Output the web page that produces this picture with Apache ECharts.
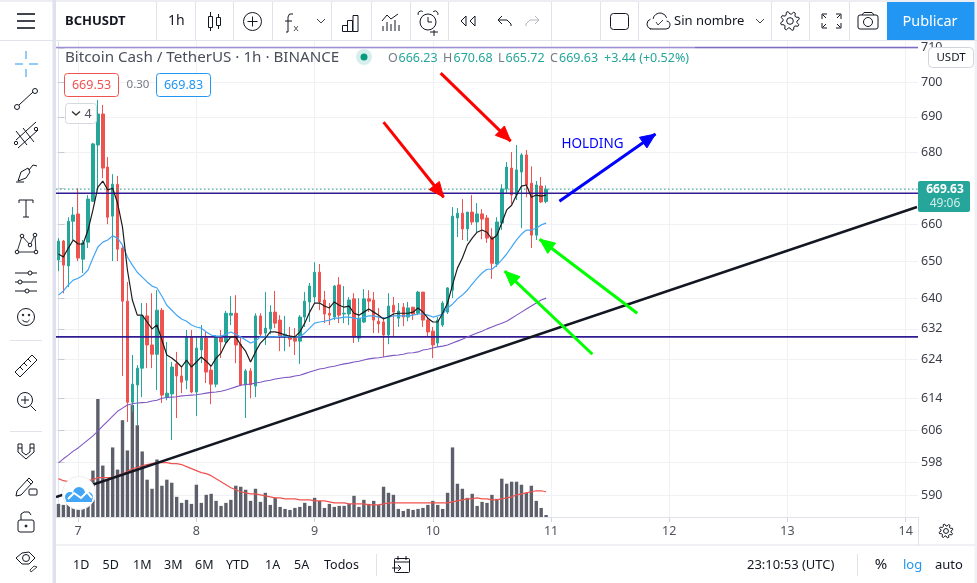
<!DOCTYPE html>
<html><head><meta charset="utf-8">
<style>html,body{margin:0;padding:0;background:#fff;overflow:hidden}#c{width:977px;height:583px}</style>
<script src="https://cdn.jsdelivr.net/npm/echarts@6/dist/echarts.min.js"></script>
</head><body><div id="c"></div>
<script>
// ---------- data ----------
const ohlc=[ // open, close, low, high
[650.3,655.4,647.3,656.2],[655.4,648.9,641.4,655.7],[648.7,660.8,643.0,661.9],[660.8,662.5,655.7,664.7],[662.8,650.8,650.0,669.9],
[650.5,654.9,646.8,655.7],[655.1,666.9,653.5,668.0],[666.3,682.3,666.1,682.6],[682.0,690.8,669.4,694.8],[690.8,675.5,672.7,693.4],
[675.8,661.9,660.0,678.6],[662.2,671.0,650.0,673.8],[671.0,653.2,650.0,673.3],[653.5,639.3,619.8,654.3],[639.3,613.1,608.1,644.4],
[613.1,617.7,610.6,625.2],[617.5,621.8,607.3,622.6],[621.8,635.4,614.4,638.8],[635.4,627.8,621.8,638.8],[627.8,625.4,621.8,641.4],
[625.4,636.9,616.2,642.2],[636.9,614.9,612.9,637.5],[614.4,615.4,613.6,628.6],[615.2,622.1,603.6,623.4],[622.9,619.8,609.1,626.0],
[619.8,618.2,615.4,622.1],[618.7,629.9,616.4,631.7],[629.9,615.7,615.4,631.7],[615.7,627.0,609.6,629.9],[626.5,629.6,623.1,633.0],
[629.6,620.8,618.0,631.2],[621.3,617.7,612.6,622.6],[617.7,629.9,616.9,630.4],[629.9,628.6,624.4,631.7],[628.6,636.1,628.3,636.7],
[635.6,636.1,633.0,640.6],[636.1,627.8,623.1,640.9],[628.0,617.5,617.2,629.9],[617.5,621.1,609.1,621.6],[621.1,617.5,614.1,621.8],
[617.2,635.4,614.4,636.1],[635.4,630.6,629.9,636.1],[630.9,632.2,627.8,641.7],[632.0,636.4,630.6,638.2],[636.4,633.5,632.2,642.0],
[634.3,630.1,626.2,635.6],[629.9,630.6,626.2,635.4],[630.1,629.3,627.3,632.5],[629.6,628.8,625.2,632.2],[628.8,635.1,622.9,635.6],
[635.1,639.3,632.5,641.7],[639.1,643.3,633.8,644.1],[640.4,647.0,638.8,649.7],[647.0,639.1,636.9,649.2],[639.6,635.9,633.5,642.0],
[636.1,635.6,633.0,638.8],[635.1,643.3,634.3,643.6],[643.6,635.6,633.5,645.7],[635.9,636.1,633.5,643.3],[635.9,639.6,633.0,640.4],
[639.9,629.9,628.3,641.4],[629.6,634.8,628.6,640.1],[633.8,639.9,633.5,642.5],[639.9,639.3,636.4,642.2],[639.6,634.3,630.9,641.7],
[634.0,633.3,630.9,637.5],[633.8,630.4,624.7,635.1],[630.4,638.0,628.0,641.4],[638.2,636.4,629.9,640.4],[634.8,636.7,632.5,638.8],
[637.7,635.1,632.7,638.8],[635.1,637.5,634.0,639.1],[637.7,635.9,634.3,637.7],[636.1,641.7,635.6,642.0],[641.7,634.3,632.5,641.7],
[634.3,631.2,629.9,635.1],[631.4,627.8,624.4,632.5],[628.3,634.3,627.3,635.1],[633.0,638.8,632.5,639.3],[636.4,642.8,635.9,643.0],
[642.2,662.2,640.1,664.7],[661.7,663.0,656.5,664.4],[663.0,658.7,655.7,666.9],[658.7,663.3,655.4,663.3],[663.3,660.6,659.8,668.0],
[660.6,662.8,657.8,665.8],[662.8,661.4,655.9,664.1],[661.7,656.2,654.9,662.5],[656.5,649.4,645.2,658.9],[649.2,660.6,648.4,661.9],
[660.3,669.7,658.4,671.0],[669.7,675.8,668.3,677.2],[675.5,668.0,665.5,680.0],[668.0,675.0,666.6,682.0],[674.4,679.2,658.9,679.7],
[679.2,670.8,667.4,680.6],[671.3,657.0,653.5,676.0],[657.0,670.8,655.7,671.9],[670.5,666.1,665.8,673.0],[666.23,669.63,665.72,670.68]];
const maBlack=[651.9,651.1,653.5,655.7,654.6,654.6,658.4,663.9,670.2,671.9,
669.4,669.9,665.8,659.2,647.6,639.6,635.6,635.6,633.8,632.0,
633.0,629.1,625.2,624.4,623.4,622.1,623.9,622.1,623.4,624.7,
623.6,622.3,624.4,625.7,628.3,629.9,629.9,627.8,626.2,623.4,
626.0,628.3,629.6,631.2,631.2,630.9,630.4,630.1,629.9,631.2,
633.5,636.4,638.8,638.8,638.0,637.5,639.1,638.2,637.7,638.0,
636.1,635.6,636.4,637.2,636.4,635.6,634.6,635.1,635.9,636.1,
636.1,636.1,636.4,637.5,636.4,634.8,633.8,633.8,636.1,638.8,
643.6,648.1,650.8,654.3,656.2,657.8,658.4,657.8,655.9,657.0,
660.3,663.9,665.2,668.0,670.5,670.8,667.4,668.0,667.7,668.0];
const maBlue=[640.9,642.0,643.6,644.9,645.4,646.2,647.6,650.8,653.8,655.1,
655.7,656.8,656.2,654.3,651.1,648.9,647.0,645.7,644.4,643.3,
642.8,640.6,638.2,636.9,635.6,634.6,634.0,633.0,632.5,632.2,
631.2,630.4,630.1,630.1,630.6,631.2,630.6,629.9,629.1,628.3,
628.8,629.9,629.9,629.9,629.9,630.1,630.1,629.9,629.9,629.9,
630.9,632.2,633.5,633.8,634.0,634.3,634.8,634.8,635.1,635.1,
634.8,634.6,635.1,635.4,635.4,635.1,634.8,635.1,635.4,635.4,
635.4,635.4,635.6,635.9,635.9,635.6,635.1,635.4,635.9,637.5,
638.5,639.9,640.9,642.2,643.8,645.4,646.8,647.8,647.8,648.9,
650.3,651.9,653.8,655.7,657.3,658.4,658.4,658.9,659.8,660.3];
const maPurple=[597.9,598.9,599.8,600.8,601.6,602.6,603.6,604.6,605.8,607.1,
608.3,609.6,610.8,611.6,612.4,612.7,612.9,613.0,613.1,613.4,
613.6,614.1,614.3,614.4,614.5,614.7,614.8,614.9,615.0,615.2,
615.4,615.6,615.7,615.9,616.2,616.6,617.0,617.4,617.6,617.7,
618.0,618.2,618.5,618.7,619.0,619.2,619.4,619.5,619.8,620.0,
620.4,620.8,621.2,621.6,621.8,622.1,622.3,622.6,622.9,623.1,
623.4,623.6,623.9,624.2,624.4,624.5,624.7,624.9,625.1,625.2,
625.4,625.7,625.8,626.0,626.5,626.7,627.0,627.3,627.5,627.8,
628.3,628.8,629.3,629.9,630.4,630.9,631.4,632.0,632.5,633.0,
633.5,634.0,634.8,635.6,636.4,637.2,638.0,638.8,639.6,640.1];
const volumes=[14,13,15,16,15,18,25,47,118,52,38,70,48,97,67,112,92,66,38,29,
58,32,38,35,21,15,18,14,33,15,23,24,17,12,15,18,32,31,28,17,
29,16,25,13,20,11,9,8,10,11,15,12,20,17,10,14,11,12,12,14,
22,11,18,14,17,13,31,25,23,9,7,9,8,9,10,13,17,13,9,25,
70,34,29,20,24,12,16,15,23,19,39,34,36,36,33,25,32,17,10,3];
const volumeMA=[39,37,36,36,36,36,37,38,40,40,40,40,42,44,46,49,50,52,53,54,
55,55,55,54,54,53,51,49,47,45,44,42,39,36,33,30,28,26,25,24,
24,23,22,21,20,20,19,19,19,18,18,18,17,17,17,16,15,15,15,14,
14,14,14,13,13,13,14,15,15,15,15,15,15,15,15,15,15,15,15,15,
16,17,18,19,19,20,19,19,18,18,19,20,21,23,24,25,26,27,27,26];
const priceTicks=[710,700,690,680,670,660,650,640,632,624,614,606,598,590];
const dayTicks=[4,28,52,76,100,124,148,172];
const dayLabels=['7','8','9','10','11','12','13','14'];
const barCount=175;
const barNames=Array.from({length:barCount},(_,i)=>'h'+i);
// drawn objects: barFrom, priceFrom, barTo, priceTo
const trendLine=[-0.5,589.5,174.3,664.7];
const levels=[710.07,668.5,629.9];
const lastClose=669.63;
const redArrows=[[66.0,688.5,78.2,667.4],[77.6,702.6,91.8,683.1]];
const blueArrows=[[101.7,666.3,121.2,685.1]];
const greenArrows=[[108.4,625.4,90.6,647.3],[117.5,636.1,97.7,655.9]];
const noteHolding=[102.1,682.3,'HOLDING'];

// ---------- page chrome drawn as graphic elements ----------
const FONT='"Noto Sans",sans-serif', INK='#131722', EDGE='#e0e3eb';
const els=[];
const Z=100;
function T(s,x,y,o={}){els.push({type:'text',z:o.z||Z,silent:true,style:{text:s,x,y,fill:o.c||INK,align:o.a||'left',verticalAlign:'middle',font:`${o.w||'normal'} ${o.s||13}px ${FONT}`,opacity:o.o==null?1:o.o}});}
function L(x1,y1,x2,y2,c=INK,w=1){els.push({type:'line',z:Z,silent:true,shape:{x1,y1,x2,y2},style:{stroke:c,lineWidth:w,fill:null}});}
function P(points,c=INK,w=1,fill=null){els.push({type:fill?'polygon':'polyline',z:Z,silent:true,shape:{points},style:{stroke:c,lineWidth:w,fill:fill||null,lineJoin:'round'}});}
function C(cx,cy,r,c=INK,w=1,fill=null,z=Z){els.push({type:'circle',z,silent:true,shape:{cx,cy,r},style:{stroke:c,lineWidth:w,fill:fill||'transparent'}});}
function R(x,y,w,h,r=0,fill='transparent',c,lw=1,z=Z){if(c===undefined)c=(fill==='transparent')?INK:null;els.push({type:'rect',z,silent:true,shape:{x,y,width:w,height:h,r},style:{fill,stroke:c,lineWidth:lw}});}
function A(cx,cy,r,a0,a1,c=INK,w=1){els.push({type:'arc',z:Z,silent:true,shape:{cx,cy,r,startAngle:a0,endAngle:a1,clockwise:true},style:{stroke:c,lineWidth:w,fill:null}});}
function gear(cx,cy,ro,ri,n,c=INK){const p=[];for(let k=0;k<n*4;k++){const a=k/(n*4)*Math.PI*2+Math.PI/8;const r=(k%4<2)?ro:ri;p.push([cx+r*Math.cos(a),cy+r*Math.sin(a)]);}P(p,c,1,'#fff');C(cx,cy,ro*0.35,c);}

// frames
R(0,0,977,2,0,'#eceef4');R(974.5,0,2.5,583,0,'#f0f1f6');
R(52.5,0,3.5,583,0,'#dfe1ee');
L(0,40.5,977,40.5,EDGE);L(56,517.5,919,517.5,EDGE);L(56,545,975,545,EDGE);L(918.5,518,918.5,545,EDGE);
[156.5,195.5,233.5,272.5,331.5,371.5,410.5,448.5,551.5,600.5,638.5,771.5,809.5,849.5].forEach(x=>L(x,2,x,40,EDGE));
L(376.5,554,376.5,576,EDGE);L(857.5,554,857.5,576,EDGE);L(10,340.5,42,340.5,EDGE);L(10,431.5,42,431.5,EDGE);

// top bar
[14,21,28].forEach(y=>L(17,y,35,y,INK,1.6));
T('BCHUSDT',65,21,{s:13,w:'bold'});T('1h',168,21,{s:14});
R(208.5,16.5,4,11);L(210.5,12,210.5,16.5);L(210.5,27.5,210.5,31);R(216.5,17.5,4,8);L(218.5,14,218.5,17.5);L(218.5,25.5,218.5,29);
C(252.5,21.5,9);L(247.5,21.5,257.5,21.5);L(252.5,16.5,252.5,26.5);
P([[293,14],[289.5,14],[288,17],[288,32],[286,32]]);L(285,21,292,21);L(294,26,298,31,'#555');L(298,26,294,31,'#555');
P([[317,19],[321,23],[325,19]],'#444');
R(342.5,25.5,5,6);R(347.5,20.5,5,11);R(353,15.5,5,16);
P([[382,21],[387,15],[391,19],[398,14]]);[383,387,391,395,399].forEach((x,k)=>L(x,31,x,[26,22,24,20,25][k],INK));
C(428,22,8);L(428,17,428,22);L(428,22,432,22);A(421,14,3,Math.PI*0.9,Math.PI*1.7);A(435,14,3,-Math.PI*0.7,Math.PI*0.1);L(434,30,434,36,INK,1);L(430,32,438,32,INK,1);
P([[466,16],[461,21],[466,26],[466,16]]);P([[475,16],[470,21],[475,26],[475,16]]);
P([[502,16],[498,20],[502,24]]);P([[498,20],[507,20],[511,24],[511,26]]);
P([[535,16],[539,20],[535,24]],'#b2b5be');P([[539,20],[530,20],[526,24],[526,26]],'#b2b5be');
R(610.5,13.5,18,16,3);
P([[651,29],[650,29]]);A(652,24,5,Math.PI*0.5,Math.PI*1.4);A(660,20,7,Math.PI*1.05,Math.PI*1.9);A(666,25,4,-Math.PI*0.45,Math.PI*0.5);L(652,29,666,29);P([[656,22],[658,25],[663,20]],INK,0.8);
T('Sin nombre',674,21,{s:13});
P([[756,19],[760,23],[764,19]],'#444');
gear(790,21,9.5,7,8);
P([[822,19],[822,14],[827,14]]);P([[836,14],[841,14],[841,19]]);P([[822,23],[822,28],[827,28]]);P([[836,28],[841,28],[841,23]]);L(823,15,826,18);L(840,15,837,18);L(823,27,826,24);L(840,27,837,24);
R(858,15,20,14,2);C(868,22,4.5);L(862,15,864,12.5);L(864,12.5,872,12.5);L(872,12.5,874,15);
R(887,2,87.5,38,0,'#2196f3');T('Publicar',930,22,{s:14.5,c:'#fff',a:'center'});

// legend rows
R(56,46,639,3,0,'rgba(255,255,255,0.25)');
T('Bitcoin Cash / TetherUS · 1h · BINANCE',65,58,{s:15.2,c:'#4a4e5a'});
C(364,57,8,'#d7efec',0,'#d7efec');C(364,57,3.5,'#089981',0,'#089981');
const G='#26a69a',GY='#787b86';
[['O',388,GY],['666.23',398.5,G],['H',443,GY],['670.68',453.5,G],['L',498,GY],['665.72',505.5,G],['C',550,GY],['669.63',559,G],['+3.44 (+0.52%)',604,G]].forEach(a=>T(a[0],a[1],58.5,{s:12.5,c:a[2]}));
R(64.5,73.5,54,23,3,'#fff','#ef5350');T('669.53',91.5,85,{s:12.5,c:'#ef5350',a:'center'});
T('0.30',138,84.5,{s:11.5,c:GY,a:'center'});
R(156.5,73.5,54,23,3,'#fff','#2196f3');T('669.83',183.5,85,{s:12.5,c:'#2196f3',a:'center'});
R(65.5,103.5,31,20,3,'#fff','#d6d8e0');P([[72,111.5],[76,115],[80,111.5]],'#333',1.4);T('4',88,114,{s:12.5,c:'#50535e',a:'center'});

// right axis
R(928.5,47.5,45,20,4,'#fff','#d1d4dc');T('USDT',951,57.5,{s:11.5,a:'center'});
R(918,181,52,31,2,'#26a69a');T('669.63',945,190,{s:12,w:'bold',c:'#fff',a:'center'});T('49:06',945,203.5,{s:12,c:'#cfeeea',a:'center'});

// left tools
const B='#2196f3';
L(26,51,26,59,B);L(26,69,26,77,B);L(15,64,23,64,B);L(29,64,38,64,B);
L(19,105,33,92);C(17,107,2.5);C(35,91,2.5);
L(16,140,36,122);L(18,148,38,130);L(16,131,27,145);L(23,128,34,142);C(16,143,1.7);C(36,129,1.7);
P([[18,181],[21,172],[28,168],[30,172],[26,178],[18,181]]);P([[29,170],[33,165],[37,166]]);L(16,182,24,182);
P([[19,203],[19,200],[33,200],[33,203]]);L(26,200,26,217);L(23,217,29,217);
P([[17,252],[22,236],[30,245],[35,235],[36,252],[17,252]],INK,0.9);[[17,252],[22,236],[30,245],[35,235],[36,252]].forEach(p=>C(p[0],p[1],1.8,INK,1,'#fff'));
L(15,273,37,273);L(15,282,37,282);L(15,291,37,291);C(30,273,2,INK,1,'#fff');C(20,282,2,INK,1,'#fff');C(27,291,2,INK,1,'#fff');
C(26,317,8.5);C(23,315,0.8,INK,1,INK);C(29,315,0.8,INK,1,INK);A(26,318,4,0.15*Math.PI,0.85*Math.PI);
P([[15,372],[32,355],[37,360],[20,377],[15,372]]);[[20,367,23,370],[24,363,27,366],[28,359,31,362]].forEach(a=>L(...a));
C(25,400,7.5);L(30.5,405.5,36,411);L(21,400,29,400);L(25,396,25,404);
P([[18,444],[18,452],[26,459],[34,452],[34,444],[30,444],[30,452],[26,455],[22,452],[22,444],[18,444]]);L(18,448,22,448);L(30,448,34,448);
P([[17,491],[29,478],[33,482],[21,495],[16,496],[17,491]]);L(27,480,31,484);R(29,489,8,6,1);
R(18,520,16,12,2);P([[21,520],[21,514],[24,512],[29,512],[31,515]]);C(26,526,1,INK,1,INK);
P([[16,558],[22,553],[29,552],[35,558],[29,564],[22,564],[16,558]]);C(26,558,3.5);P([[30,570],[34,566],[37,567],[31,572],[30,570]],INK,0.8);

// logo
C(79,493,16.5,'#eceef2',1,'#fff',101);
[[70,497,5],[79,493,6],[88,497,5]].forEach(a=>C(a[0],a[1],a[2],'#42a5f5',0,'#42a5f5',102));
R(66,495,26,7,1,'#42a5f5',null,0,102);
els.push({type:'polyline',z:103,silent:true,shape:{points:[[68,499],[74,493],[81,498],[87,492],[92,498]]},style:{stroke:'#fff',lineWidth:2,fill:null}});

// bottom bar and gear
[['1D',73],['5D',102.5],['1M',133],['3M',164],['6M',195],['YTD',226],['1A',265],['5A',294],['Todos',324]].forEach(a=>T(a[0],a[1],565,{s:12.5}));
R(394.5,558.5,15,14,1);L(394.5,562,409.5,562);L(398,556,398,560);L(406,556,406,560);L(392,568,401,568);P([[398,565],[401,568],[398,571]]);
T('23:10:53 (UTC)',747,565,{s:13});T('%',881,565,{s:15,a:'center'});T('log',903,565,{s:13,c:'#2196f3'});T('auto',935,565,{s:13});
gear(946,531,7,5,8);

// ---------- custom series helpers ----------
function segRender(color,width,dash,head){return function(params,api){
  const a=api.coord([api.value(0),api.value(1)]),b=api.coord([api.value(2),api.value(3)]);
  const ch=[{type:'line',shape:{x1:a[0],y1:a[1],x2:b[0],y2:b[1]},style:{stroke:color,lineWidth:width,lineDash:dash||null,fill:null}}];
  if(head){const t=Math.atan2(b[1]-a[1],b[0]-a[0]),len=15,w=6.5;
    const bx=b[0]-len*Math.cos(t),by=b[1]-len*Math.sin(t);
    ch.push({type:'polygon',shape:{points:[[b[0],b[1]],[bx-w*Math.sin(t),by+w*Math.cos(t)],[bx+w*Math.sin(t),by-w*Math.cos(t)]]},style:{fill:color,stroke:color,lineWidth:1}});}
  return {type:'group',children:ch};};}
const seg=(name,data,color,width,dash,head,z)=>({name,type:'custom',xAxisIndex:1,yAxisIndex:0,z:z||10,clip:true,silent:true,
  encode:{x:[0,2],y:[1,3]},data,renderItem:segRender(color,width,dash,head),animation:false});
const lineS=(name,data,color,w)=>({name,type:'line',xAxisIndex:0,yAxisIndex:0,data,showSymbol:false,symbol:'none',silent:true,z:6,lineStyle:{color,width:w},animation:false});

const grid0={left:56,right:59,top:41,bottom:65};
const chart=echarts.init(document.getElementById('c'));
chart.setOption({
  animation:false,backgroundColor:'#fff',
  textStyle:{fontFamily:FONT},
  grid:[grid0,{left:56,right:59,top:397,bottom:65}],
  xAxis:[
    {type:'category',gridIndex:0,data:barNames,show:false,boundaryGap:true},
    {type:'value',gridIndex:0,min:-0.5,max:barCount-0.5,position:'bottom',
      axisLine:{show:false},
      axisTick:{show:true,length:4,lineStyle:{color:'#d1d4dc'},customValues:dayTicks},
      splitLine:{show:true,lineStyle:{color:'#f0f1f5',width:1}},
      axisLabel:{show:true,color:'#50535e',fontSize:12.5,margin:7,customValues:dayTicks,formatter:v=>dayLabels[dayTicks.indexOf(v)]||''}},
    {type:'category',gridIndex:1,data:barNames,show:false,boundaryGap:true}
  ],
  yAxis:[
    {type:'log',gridIndex:0,logBase:10,min:584.4,max:712,position:'right',
      axisLine:{show:true,lineStyle:{color:EDGE}},
      axisTick:{show:true,length:6,lineStyle:{color:'#c8cad2'},customValues:priceTicks},
      splitLine:{show:true,lineStyle:{color:'#f0f1f5',width:1}},
      minorTick:{show:false},minorSplitLine:{show:false},
      axisLabel:{show:true,color:'#3a3d47',fontSize:12.5,margin:3,customValues:priceTicks,formatter:v=>String(Math.round(v))}},
    {type:'value',gridIndex:1,min:0,max:120,show:false}
  ],
  series:[
    {name:'Volume',type:'bar',xAxisIndex:2,yAxisIndex:1,data:volumes,barWidth:3.4,silent:true,z:1,itemStyle:{color:'#5d606b'}},
    {name:'Volume MA',type:'line',xAxisIndex:2,yAxisIndex:1,data:volumeMA,showSymbol:false,symbol:'none',silent:true,z:2,lineStyle:{color:'#ef5350',width:1.2}},
    {name:'BCHUSDT',type:'candlestick',xAxisIndex:0,yAxisIndex:0,data:ohlc,barWidth:3,silent:true,z:4,
      itemStyle:{color:'#26a69a',color0:'#ef5350',borderColor:'#26a69a',borderColor0:'#ef5350',borderWidth:1}},
    lineS('MA purple',maPurple,'#7e57c2',1.1),
    lineS('MA blue',maBlue,'#42a5f5',1.2),
    lineS('MA black',maBlack,'#1c1c1c',1.2),
    seg('Level top',[[-0.5,levels[0],barCount-0.5,levels[0]]],'#7e6bc4',1.4,null,false,5),
    seg('Level mid',[[-0.5,levels[1],barCount-0.5,levels[1]]],'#311b92',1.6,null,false,5),
    seg('Level low',[[-0.5,levels[2],barCount-0.5,levels[2]]],'#311b92',1.6,null,false,5),
    seg('Last close',[[-0.5,lastClose,barCount-0.5,lastClose]],'#26a69a',1,[1.5,2.5],false,5),
    seg('Trend line',[trendLine],'#131722',2.5,null,false,8),
    seg('Red arrows',redArrows,'#ff0000',3,null,true),
    seg('Blue arrows',blueArrows,'#0000ff',3,null,true),
    seg('Green arrows',greenArrows,'#00ff00',3,null,true),
    {name:'Note',type:'custom',xAxisIndex:1,yAxisIndex:0,z:10,silent:true,encode:{x:0,y:1},data:[noteHolding],
      renderItem:(p,api)=>{const c=api.coord([api.value(0),api.value(1)]);return {type:'text',style:{text:noteHolding[2],x:c[0],y:c[1],fill:'#0000ff',font:'13.5px '+FONT,align:'left',verticalAlign:'middle'}};}}
  ],
  graphic:{elements:els}
});
</script></body></html>
